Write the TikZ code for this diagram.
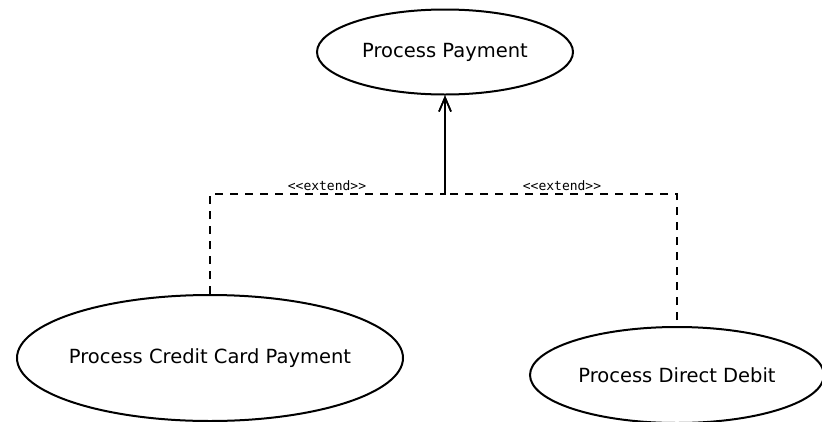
\documentclass[tikz,border=0pt]{standalone}
\usepackage{fontspec}
\setmainfont{DejaVu Sans}
\newfontfamily\labfont{DejaVu Sans Mono}
\usetikzlibrary{shapes.geometric,arrows.meta}
\tikzset{
  usecase/.style={ellipse, draw=black, line width=2pt, inner sep=0pt,
    font=\fontsize{19.5}{22}\selectfont, text=black},
  ext/.style={draw=black, line width=2pt, dash pattern=on 8pt off 7pt},
  extarrow/.style={ext, -{Straight Barb[length=14pt,width=12pt,line width=1.6pt]}},
  stelabel/.style={font=\labfont\fontsize{13}{15}\selectfont, inner sep=0pt, text=black}
}
\begin{document}
\begin{tikzpicture}[x=1pt,y=-1pt]
\useasboundingbox (0,0) rectangle (822,421);
\clip (0,0) rectangle (822,421);
\node[usecase, minimum width=256pt, minimum height=85pt] (pay) at (445,52) {\makebox[0pt]{Process Payment}};
\node[usecase, minimum width=386pt, minimum height=126pt] (cc) at (210,358) {\makebox[0pt]{Process Credit Card Payment}};
\node[usecase, minimum width=294pt, minimum height=96pt] (dd) at (677,375) {\makebox[0pt]{Process Direct Debit}};
\coordinate (j) at (445,194);
\draw[extarrow] (cc.north) |- (j) -- (pay.south);
\draw[extarrow, dash phase=9pt] (dd.north) |- (j) -- (pay.south);
\node[stelabel] (l1) at (327,186) {<<extend>>};
\node[stelabel] (l2) at (562,186) {<<extend>>};
\end{tikzpicture}
\end{document}
